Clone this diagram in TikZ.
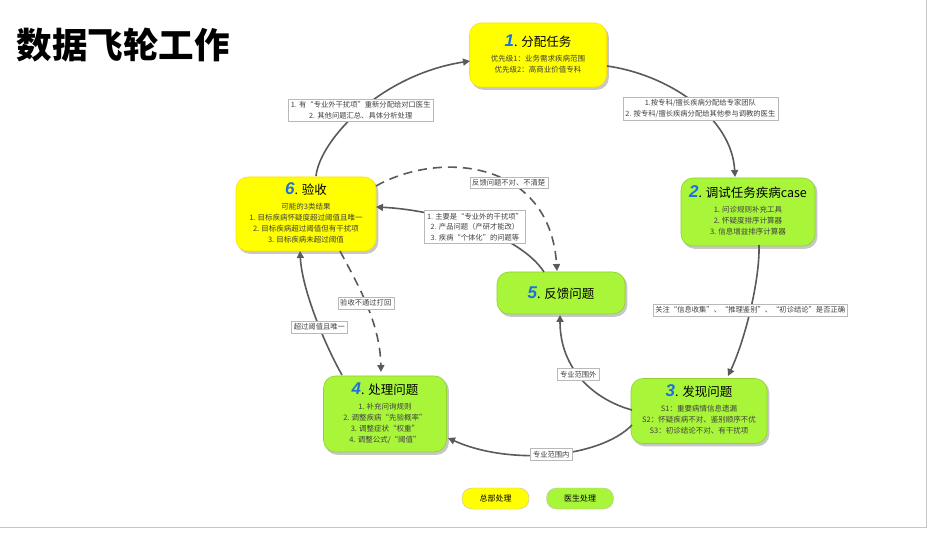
\documentclass[tikz,border=0pt]{standalone}
\usepackage{fontspec}
\setmainfont{Noto Sans CJK SC}
\newfontfamily\numfont{Liberation Sans}
\usetikzlibrary{arrows.meta,backgrounds}
\definecolor{byel}{HTML}{FFFF00}
\definecolor{bgrn}{HTML}{A9F53A}
\definecolor{numblue}{HTML}{1E6FE0}
\definecolor{linec}{HTML}{5A5A5A}
\newcommand\bnum[1]{{\color{numblue}\numfont\fontsize{17}{17}\selectfont\bfseries\itshape #1}}
\newcommand\btitle[1]{{\fontsize{12.5}{14}\selectfont #1}}
\newcommand\subl[1]{{\fontsize{7.5}{11}\selectfont\color{black!75}\renewcommand\arraystretch{1}\setlength\tabcolsep{0pt}\begin{tabular}{c}#1\end{tabular}}}
\tikzset{
  x=1pt,y=-1pt,
  boxbase/.style={rounded corners=12pt,align=center,inner sep=2pt,line width=0.6pt},
  ybox/.style={boxbase,fill=byel,draw=yellow!85!orange},
  gbox/.style={boxbase,fill=bgrn,draw=bgrn!85!black},
  shad/.style={fill=black,opacity=0.22,rounded corners=12pt},
  lab/.style={fill=white,draw=gray!55,solid,line width=0.4pt,align=center,inner sep=2.5pt,
    font=\fontsize{7.3}{10.5}\selectfont,text=black!75},
  conn/.style={draw=linec,line width=1.6pt,-{Triangle[length=7pt,width=7pt]}},
  dconn/.style={conn,dash pattern=on 9pt off 6pt},
  pill/.style={rounded corners=10pt,minimum width=67pt,minimum height=21pt,inner sep=0pt,
    font=\fontsize{8}{9}\selectfont,draw=gray!50,line width=0.4pt}
}
\begin{document}
\begin{tikzpicture}
\useasboundingbox (0,0) rectangle (940,534);

\node[anchor=west,font=\fontsize{35.5}{38}\selectfont\bfseries] (title) at (13,45) {数据飞轮工作};

\node[ybox,minimum width=137pt,minimum height=64pt] (n1) at (538,55)
  {\bnum{1}\btitle{. 分配任务}\\[5pt]\subl{优先级1：业务需求疾病范围\\优先级2：高商业价值专科}};
\node[gbox,minimum width=134pt,minimum height=68pt] (n2) at (748,212)
  {\bnum{2}\btitle{. 调试任务疾病case}\\[5pt]\subl{1. 问诊规则补充工具\\2. 怀疑度排序计算器\\3. 信息增益排序计算器}};
\node[gbox,minimum width=136pt,minimum height=65pt] (n3) at (699,411)
  {\bnum{3}\btitle{. 发现问题}\\[5pt]\subl{S1：重要病情信息遗漏\\S2：怀疑疾病不对、鉴别顺序不优\\S3：初诊结论不对、有干扰项}};
\node[gbox,minimum width=123pt,minimum height=76pt] (n4) at (385,414)
  {\bnum{4}\btitle{. 处理问题}\\[5pt]\subl{1. 补充问询规则\\2. 调整疾病“先验概率”\\3. 调整症状“权重”\\4. 调整公式/“阈值”}};
\node[gbox,minimum width=128pt,minimum height=42pt] (n5) at (561,293)
  {\bnum{5}\btitle{. 反馈问题}};
\node[ybox,minimum width=140pt,minimum height=74pt] (n6) at (306,214)
  {\bnum{6}\btitle{. 验收}\\[5pt]\subl{可能的3类结果\\1. 目标疾病怀疑度超过阈值且唯一\\2. 目标疾病超过阈值但有干扰项\\3. 目标疾病未超过阈值}};

\begin{scope}[on background layer]
\fill[white] (0,0) rectangle (940,534);
\foreach \n in {n1,n2,n3,n4,n5,n6}{
  \fill[shad] ([shift={(2,2.5)}]\n.north west) rectangle ([shift={(2,2.5)}]\n.south east);
}
\end{scope}
\draw[gray!45,line width=0.8pt] (926,0) -- (926,527) -- (0,527);

% connectors
\coordinate (n1r) at (607,66);
\coordinate (n2t) at (735,177);
\draw[conn] (n1r) .. controls (670,75) and (732,118) .. node[lab,pos=0.55] (l12) {1.按专科/擅长疾病分配给专家团队\\2. 按专科/擅长疾病分配给其他参与调教的医生} (n2t);

\coordinate (n2b) at (759,245);
\coordinate (n3t) at (728,376);
\draw[conn] (n2b) .. controls (760,280) and (745,340) .. node[lab,pos=0.5] (l23) {关注“信息收集”、“推理鉴别”、“初诊结论”是否正确} (n3t);

\coordinate (n3l) at (632,425);
\coordinate (n4r) at (448,438);
\draw[conn] (n3l) .. controls (600,458) and (510,466) .. node[lab,pos=0.5] (l34) {专业范围内} (n4r);

\coordinate (n3l2) at (632,410);
\coordinate (n5b) at (560,315);
\draw[conn] (n3l2) .. controls (595,400) and (560,370) .. node[lab,pos=0.55] (l35) {专业范围外} (n5b);

\coordinate (n4t) at (342,375);
\coordinate (n6b) at (300,251);
\draw[conn] (n4t) .. controls (325,345) and (302,290) .. node[lab,pos=0.42] (l46) {超过阈值且唯一} (n6b);

\coordinate (n6b2) at (340,251);
\coordinate (n4t2) at (381,372);
\draw[dconn] (n6b2) .. controls (355,280) and (380,320) .. node[lab,pos=0.5] (l64) {验收不通过打回} (n4t2);

\coordinate (n5t) at (544,272);
\coordinate (n6r) at (376,207);
\draw[conn] (n5t) .. controls (520,235) and (440,210) .. node[lab,pos=0.5] (l56) {1. 主要是“专业外的干扰项”\\2. 产品问题（产研才能改）\\3. 疾病“个体化”的问题等} (n6r);

\coordinate (n6r2) at (376,186);
\coordinate (n5t2) at (557,271);
\draw[dconn] (n6r2) .. controls (440,150) and (550,160) .. node[lab,pos=0.6] (l65) {反馈问题不对、不清楚} (n5t2);

\coordinate (n6t) at (316,176);
\coordinate (n1l) at (470,61);
\draw[conn] (n6t) .. controls (320,140) and (380,75) .. node[lab,pos=0.5] (l61) {1. 有“专业外干扰项”重新分配给对口医生\\2. 其他问题汇总、具体分析处理} (n1l);

% legend
\node[pill,fill=byel] (lg1) at (495.5,498.5) {总部处理};
\node[pill,fill=bgrn] (lg2) at (580,498.5) {医生处理};
\end{tikzpicture}
\end{document}
